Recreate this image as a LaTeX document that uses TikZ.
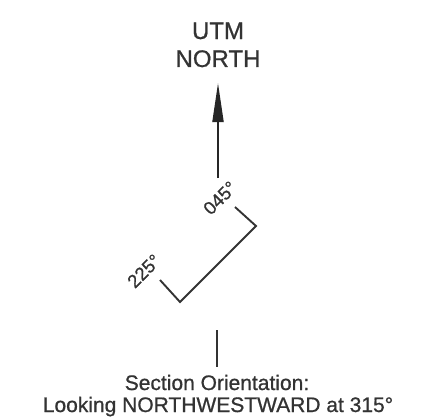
\documentclass[tikz,border=0pt]{standalone}
\usepackage{fontspec}
\setmainfont[FakeBold=0.8]{Liberation Sans}
\usetikzlibrary{arrows.meta}

\begin{document}
\begin{tikzpicture}[x=1pt,y=1pt,
    lbl/.style={text=black!80, inner sep=0pt},
    north arrow/.style={draw=black!85, line width=1.9pt, -{Triangle[length=39pt,width=11pt]}},
    section/.style={draw=black!80, line width=1.9pt, line join=miter}]
        \useasboundingbox (0,0) rectangle (438,416);

        % North label and arrow
        \node[lbl, anchor=base, font=\fontsize{24}{28}\selectfont] (utm) at (218,377) {UTM};
        \node[lbl, anchor=base, font=\fontsize{24}{28}\selectfont] (north) at (218,349) {NORTH};
        \coordinate (arrowfoot) at (218,238);
        \coordinate (arrowtip) at (218,333);
        \draw[north arrow] (arrowfoot) -- (arrowtip);

        % Section line with its end bearings
        \coordinate (end225) at (160,136);
        \coordinate (bend225) at (180,114);
        \coordinate (bend045) at (256,190);
        \coordinate (end045) at (235,209);
        \draw[section] (end225) -- (bend225) -- (bend045) -- (end045);
        \node[lbl, rotate=45, font=\fontsize{18.5}{22}\selectfont] (deg045) at (220,218) {045°};
        \node[lbl, rotate=45, font=\fontsize{18.5}{22}\selectfont] (deg225) at (144,145) {225°};

        % Viewing tick and caption
        \coordinate (ticktop) at (217,86);
        \coordinate (tickfoot) at (217,49);
        \draw[section, line width=1.6pt] (ticktop) -- (tickfoot);
        \node[lbl, anchor=base, font=\fontsize{21}{24}\selectfont] (caption1) at (217,26) {Section Orientation:};
        \node[lbl, anchor=base, font=\fontsize{21}{24}\selectfont] (caption2) at (218,4) {Looking NORTHWESTWARD at 315°};
\end{tikzpicture}
\end{document}
